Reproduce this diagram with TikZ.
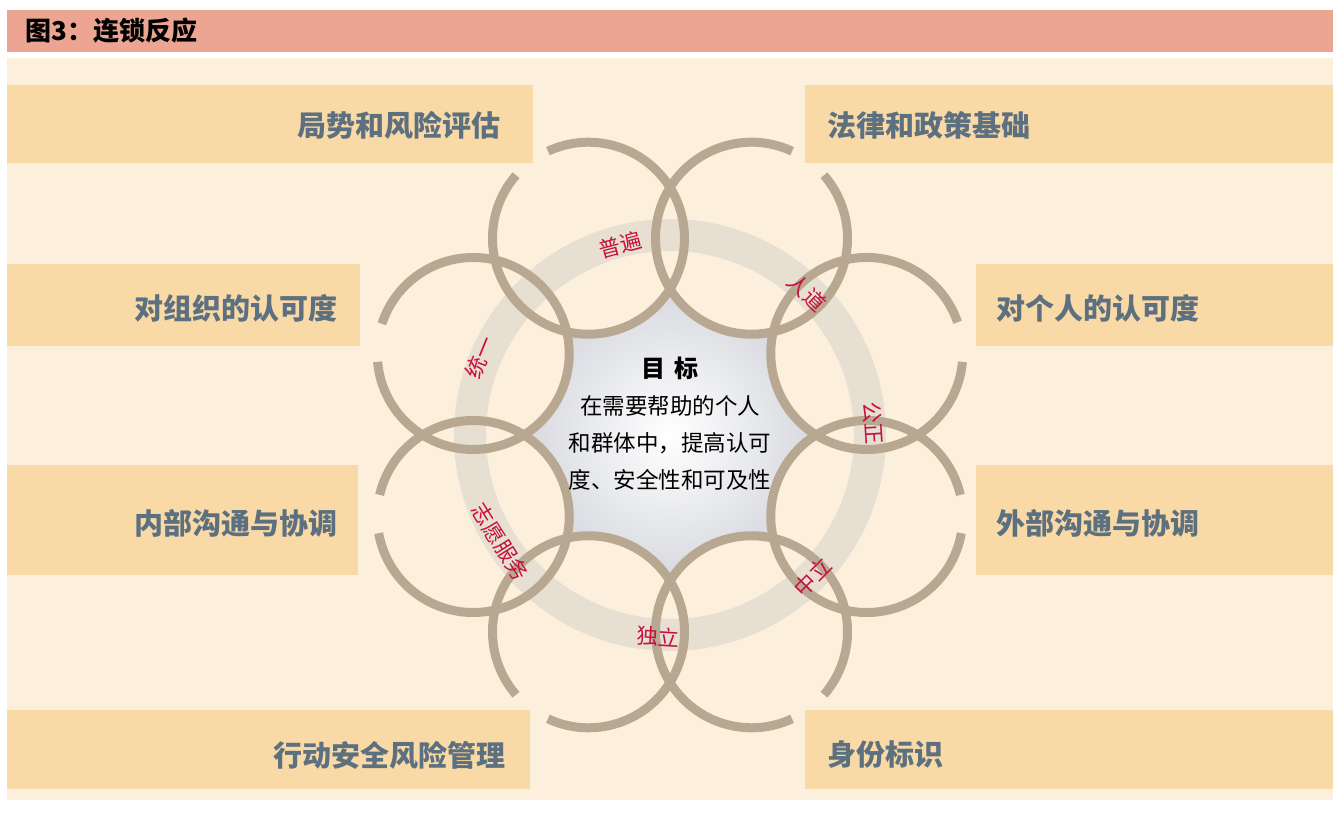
\documentclass[tikz,border=0pt]{standalone}
\usepackage{fontspec}
\setmainfont{Noto Sans CJK SC}
\definecolor{hdr}{HTML}{ECA592}
\definecolor{panel}{HTML}{FCF0DC}
\definecolor{boxc}{HTML}{F9D9A5}
\definecolor{lblc}{HTML}{5D7080}
\definecolor{redc}{HTML}{C8103E}
\definecolor{circc}{HTML}{B9A891}
\definecolor{ringc}{HTML}{E6DFD2}
\definecolor{ctrgray}{HTML}{D6D8DE}
\begin{document}
\begin{tikzpicture}[x=1pt,y=1pt,
  boxfill/.style={fill=boxc, draw=none},
  lbl/.style={font=\fontsize{29}{31}\selectfont\bfseries, text=lblc, inner sep=0pt},
  redlbl/.style={font=\fontsize{21.5}{23}\selectfont, text=redc, inner sep=0pt},
  circ/.style={draw=circc, line width=9pt},
  ctr/.style={font=\fontsize{22.5}{24}\selectfont, text=black, inner sep=0pt}]
\useasboundingbox (0,0) rectangle (1333,813);
\fill[white] (0,0) rectangle (1333,813);
% header
\fill[hdr] (7,761) rectangle (1333,803);
\node[anchor=west, font=\fontsize{26}{28}\selectfont\bfseries, inner sep=0pt] (title) at (25,782) {图3：连锁反应};
% panel
\fill[panel] (7,13) rectangle (1333,755);
% centre
\coordinate (O) at (670,378);
\shade[inner color=white, outer color=ctrgray] (O) circle (149);
\foreach \a in {22.5,67.5,...,337.5} \fill[panel] (O) ++(\a:213) circle (96);
% big ring
\draw[ringc, line width=32pt] (O) circle (200);
% circles with gaps
\foreach \a/\s/\e in {112.5/139/475, 67.5/65/401, 157.5/185/522, 202.5/190/527,
                      22.5/19/355, -22.5/13/350, 247.5/245/581, 292.5/319/655}
  \draw[circ] (O) ++(\a:213) ++(\s:96) arc[start angle=\s, end angle=\e, radius=96];
% boxes
\fill[boxfill] (7,650) rectangle (533,728);
\fill[boxfill] (805,650) rectangle (1333,728);
\fill[boxfill] (7,467) rectangle (360,549);
\fill[boxfill] (976,467) rectangle (1333,549);
\fill[boxfill] (7,238) rectangle (358,348);
\fill[boxfill] (976,238) rectangle (1333,348);
\fill[boxfill] (7,24) rectangle (530,103);
\fill[boxfill] (805,24) rectangle (1333,103);
% box labels
\node[lbl, anchor=east] (l1) at (501,688) {局势和风险评估};
\node[lbl, anchor=west] (r1) at (827,688) {法律和政策基础};
\node[lbl, anchor=east] (l2) at (338,505) {对组织的认可度};
\node[lbl, anchor=west] (r2) at (996,505) {对个人的认可度};
\node[lbl, anchor=east] (l3) at (338,290) {内部沟通与协调};
\node[lbl, anchor=west] (r3) at (996,290) {外部沟通与协调};
\node[lbl, anchor=east] (l4) at (506,58) {行动安全风险管理};
\node[lbl, anchor=west] (r4) at (827,58) {身份标识};
% centre text
\node[ctr, font=\fontsize{24}{26}\selectfont\bfseries] (goal) at (670,445) {目\hspace{0.4em}标};
\node[ctr] (c1) at (670,407) {在需要帮助的个人};
\node[ctr] (c2) at (670,370) {和群体中，提高认可};
\node[ctr] (c3) at (670,333) {度、安全性和可及性};
% ring labels
\node[redlbl, rotate=14.7] (p1) at (620,568) {普遍};
\node[redlbl, rotate=-44] (p2) at (807,520) {人道};
\node[redlbl, rotate=-86.6] (p3) at (873,390) {公正};
\node[redlbl, rotate=45.2] (p4) at (813,236) {中立};
\node[redlbl, rotate=-3.4] (p5) at (658,176) {独立};
\node[redlbl, rotate=-57.8] (p6) at (500,271) {志愿服务};
\node[redlbl, rotate=67.7] (p7) at (480,456) {统一};
\end{tikzpicture}
\end{document}
